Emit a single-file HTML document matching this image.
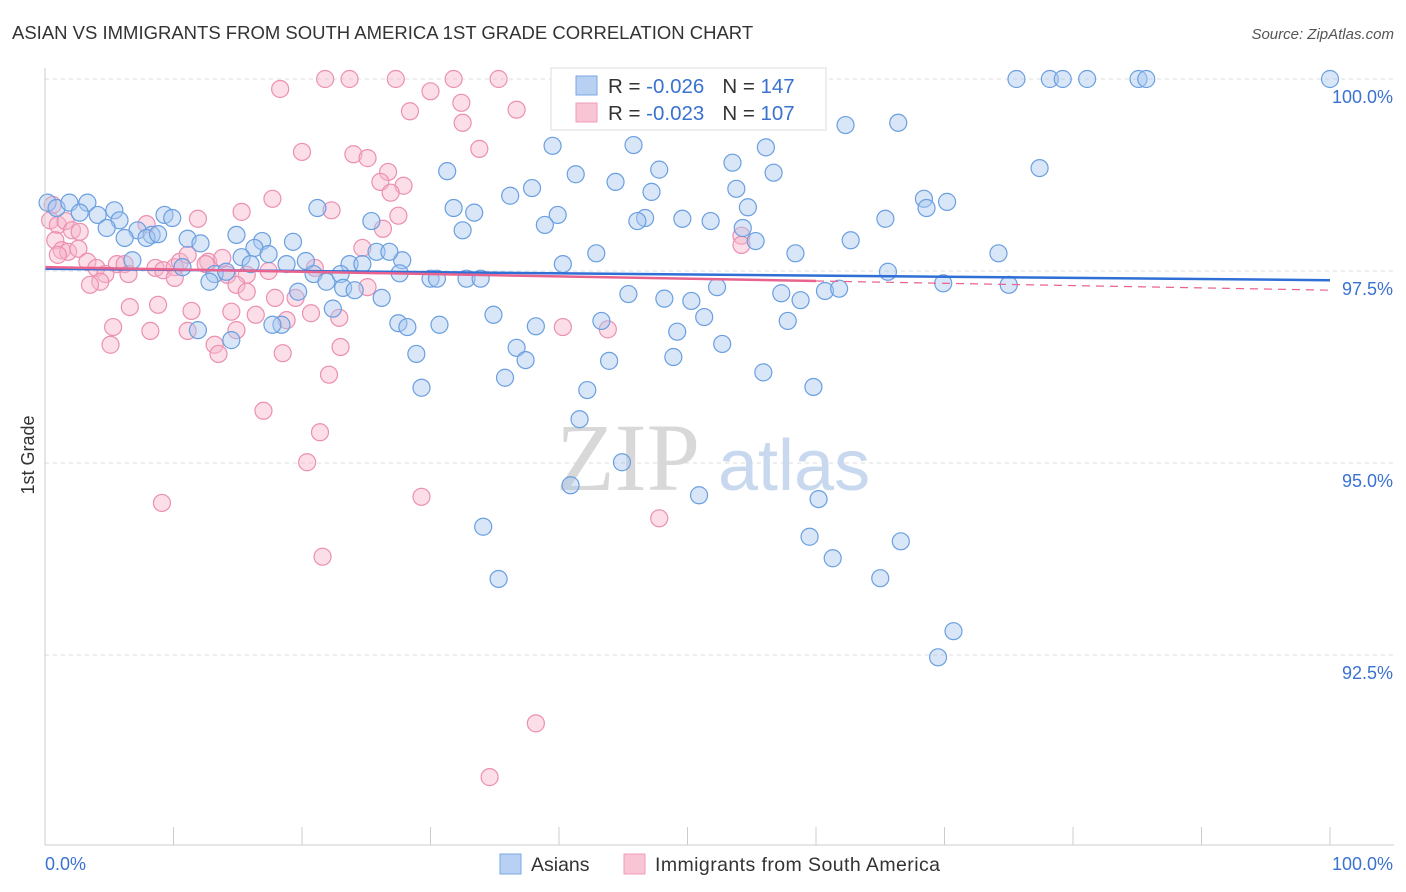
<!DOCTYPE html>
<html><head><meta charset="utf-8">
<style>
body{margin:0;background:#fff;font-family:"Liberation Sans",sans-serif;}
#wrap{position:relative;width:1406px;height:892px;overflow:hidden;}
</style></head>
<body>
<div id="wrap">
<svg id="chart" width="1406" height="892" xmlns="http://www.w3.org/2000/svg">
<text x="12" y="39" font-size="18.5" fill="#333">ASIAN VS IMMIGRANTS FROM SOUTH AMERICA 1ST GRADE CORRELATION CHART</text>
<text x="1394" y="39" font-size="15" fill="#555" font-style="italic" text-anchor="end">Source: ZipAtlas.com</text>
<g id="grid"></g>
<text x="700" y="490" font-size="96" fill="#d8d8d8" text-anchor="end" font-family="Liberation Serif,serif">ZIP</text>
<text x="718" y="490" font-size="72" fill="#c8d8ee">atlas</text>
<g id="pts"></g>
<g id="lines"></g>
<g id="axes"></g>
<text transform="translate(34,455) rotate(-90)" font-size="18" fill="#333" text-anchor="middle">1st Grade</text>
<g>
<rect x="551" y="68" width="275" height="62" fill="#fff" stroke="#ddd"/>
<rect x="576" y="76" width="21" height="19" fill="#b8d1f3" stroke="#7aa7e6"/>
<rect x="576" y="103" width="21" height="19" fill="#f9c4d4" stroke="#ef9db9"/>
<text x="608" y="93" font-size="20.5" fill="#333">R = <tspan fill="#3a72d0">-0.026</tspan><tspan dx="18">N = </tspan><tspan fill="#3a72d0">147</tspan></text>
<text x="608" y="120" font-size="20.5" fill="#333">R = <tspan fill="#3a72d0">-0.023</tspan><tspan dx="18">N = </tspan><tspan fill="#3a72d0">107</tspan></text>
</g>
<g>
<rect x="500" y="854" width="21" height="20" fill="#b8d1f3" stroke="#7aa7e6"/>
<text x="531" y="871" font-size="19.5" fill="#333">Asians</text>
<rect x="624" y="854" width="21" height="20" fill="#f9c4d4" stroke="#ef9db9"/>
<text x="655" y="871" font-size="19.5" fill="#333" textLength="285">Immigrants from South America</text>
</g>
</svg>
</div>
<script>
const yTicks=[100,97.5,95,92.5];
const yTickLabels=["100.0%","97.5%","95.0%","92.5%"];
const xLabels=["0.0%","100.0%"];
const blueX=[75.6,78.2,79.2,81.1,85.1,85.7,100,62.3,66.4,39.5,45.8,56.1,53.5,47.8,31.3,41.3,56.7,77.4,44.4,53.8,37.9,47.2,36.2,68.4,70.2,21.2,31.8,33.4,39.9,46.7,68.6,54.7,49.6,51.8,65.4,38.9,32.5,25.4,46.1,0.2,0.9,1.9,3.3,5.4,5.8,4.1,2.7,4.8,9.3,9.9,7.2,6.2,8.3,7.9,8.8,11.1,12.1,14.9,16.9,19.3,16.3,54.3,55.3,62.7,42.9,58.4,74.2,6.8,10.7,15.3,17.4,18.8,20.3,27.8,25.8,26.8,23.7,24.7,40.3,13.2,12.8,14.1,16.0,20.9,21.9,23.0,23.2,24.1,27.6,30.0,30.5,32.8,33.9,65.6,75.0,69.9,45.4,52.3,48.2,50.3,57.3,58.8,60.7,61.8,19.7,26.2,22.4,34.9,51.3,57.8,27.5,28.2,30.7,38.2,43.3,49.2,18.4,17.7,11.9,14.5,52.7,36.7,37.4,28.9,43.9,48.9,35.8,55.9,42.2,29.3,59.8,41.6,44.9,50.9,40.9,60.2,34.1,59.5,66.6,61.3,35.3,65.0,70.7,69.5];
const blueY=[100,100,100,100,100,100,100,99.40,99.43,99.13,99.14,99.11,98.91,98.82,98.80,98.76,98.78,98.84,98.66,98.57,98.58,98.53,98.48,98.44,98.40,98.32,98.32,98.26,98.23,98.19,98.32,98.33,98.18,98.15,98.18,98.10,98.03,98.15,98.15,98.39,98.32,98.39,98.39,98.29,98.16,98.23,98.26,98.06,98.23,98.19,98.03,97.93,97.97,97.93,97.98,97.92,97.86,97.97,97.89,97.88,97.80,98.06,97.89,97.90,97.73,97.73,97.73,97.64,97.55,97.68,97.72,97.59,97.63,97.64,97.75,97.75,97.59,97.59,97.59,97.46,97.36,97.49,97.59,97.46,97.36,97.46,97.28,97.25,97.47,97.40,97.40,97.40,97.40,97.49,97.32,97.34,97.20,97.29,97.14,97.11,97.21,97.12,97.24,97.27,97.23,97.15,97.01,96.93,96.90,96.85,96.82,96.77,96.80,96.78,96.85,96.71,96.80,96.80,96.73,96.60,96.55,96.50,96.34,96.42,96.33,96.38,96.11,96.18,95.95,95.98,95.99,95.57,95.01,94.58,94.71,94.53,94.17,94.04,93.98,93.76,93.49,93.50,92.81,92.47];
const pinkX=[18.3,21.8,23.7,27.3,31.8,35.3,30.0,28.4,32.4,32.5,36.7,20.0,24.0,25.1,33.8,26.7,26.1,27.9,26.9,17.7,15.3,22.3,27.5,26.3,11.9,7.9,0.6,0.4,1.0,1.6,2.1,2.7,0.8,1.3,1.8,2.6,1.0,3.3,4.0,5.6,4.7,4.3,3.5,6.2,6.5,8.6,9.2,10.1,10.5,11.1,12.7,13.8,14.2,10.1,12.5,15.7,17.4,14.9,15.7,17.9,19.5,21.0,24.7,25.1,54.2,54.2,6.6,8.8,11.4,14.5,16.4,18.8,20.7,22.9,5.3,8.2,11.1,14.9,5.1,13.2,13.5,18.5,23.0,22.1,17.0,21.4,20.4,29.3,9.1,47.8,21.6,38.2,34.6,40.3,43.8];
const pinkY=[99.87,100,100,100,100,100,99.84,99.58,99.69,99.43,99.60,99.05,99.02,98.97,99.09,98.79,98.66,98.61,98.52,98.44,98.27,98.29,98.22,98.05,98.18,98.11,98.36,98.16,98.10,98.15,98.03,98.01,97.90,97.77,97.75,97.79,97.71,97.62,97.54,97.59,97.46,97.36,97.32,97.59,97.46,97.54,97.51,97.55,97.62,97.71,97.62,97.67,97.45,97.41,97.59,97.45,97.50,97.32,97.23,97.15,97.15,97.54,97.80,97.29,97.96,97.84,97.03,97.06,96.98,96.97,96.93,96.86,96.95,96.89,96.77,96.72,96.72,96.73,96.54,96.54,96.42,96.43,96.51,96.15,95.68,95.40,95.01,94.56,94.48,94.28,93.78,91.61,90.91,96.77,96.74];
const blueTrend=[97.53,97.38];
const pinkTrend=[97.55,97.25];
const pinkSolidEnd=60;

const NS="http://www.w3.org/2000/svg";
function sx(v){return 45+v*12.85;}
function sy(v){return 79+(100-v)*76.8;}
function mk(tag,attrs,parent){const e=document.createElementNS(NS,tag);for(const k in attrs)e.setAttribute(k,attrs[k]);parent.appendChild(e);return e;}
const grid=document.getElementById('grid'),axes=document.getElementById('axes'),pts=document.getElementById('pts'),lines=document.getElementById('lines');
yTicks.forEach((t,i)=>{
  const l=mk('line',{x1:45,x2:1394,y1:sy(t),y2:sy(t),stroke:'#ddd','stroke-dasharray':'4,4'},grid);
  
  
  const tx=mk('text',{x:1393,y:sy(t)+24,'font-size':18,fill:'#3a72d0','text-anchor':'end'},axes);
  tx.textContent=yTickLabels[i];
  
  
});
const ax=mk('line',{x1:45,x2:45,y1:68,y2:845,stroke:'#ccc'},axes);


const bx=mk('line',{x1:45,x2:1394,y1:845,y2:845,stroke:'#ccc'},axes);


for(let i=0;i<=10;i++){
  const t=mk('line',{x1:sx(i*10),x2:sx(i*10),y1:827,y2:845,stroke:'#ccc'},axes);
  
  
}
const xl0=mk('text',{x:45,y:870,'font-size':18,fill:'#3a72d0'},axes);xl0.textContent=xLabels[0];


const xl1=mk('text',{x:1393,y:870,'font-size':18,fill:'#3a72d0','text-anchor':'end'},axes);xl1.textContent=xLabels[1];


function dots(X,Y,fill,stroke,name){
  X.forEach((x,i)=>{
    const c=mk('circle',{cx:sx(x),cy:sy(Y[i]),r:8.5,fill:fill,'fill-opacity':0.45,stroke:stroke,'stroke-width':1.2},pts);
    
    
  });
}
dots(pinkX,pinkY,'#f7b6cc','#ec8fb0','immigrant-point');
dots(blueX,blueY,'#a9c8f0','#6a9fe0','asian-point');
const bl=mk('line',{x1:sx(0),y1:sy(blueTrend[0]),x2:sx(100),y2:sy(blueTrend[1]),stroke:'#2f6fd6','stroke-width':2.5},lines);


const pm=pinkTrend[0]+(pinkTrend[1]-pinkTrend[0])*pinkSolidEnd/100;
const pl=mk('line',{x1:sx(0),y1:sy(pinkTrend[0]),x2:sx(pinkSolidEnd),y2:sy(pm),stroke:'#e8648f','stroke-width':2.5},lines);


const pd=mk('line',{x1:sx(pinkSolidEnd),y1:sy(pm),x2:sx(100),y2:sy(pinkTrend[1]),stroke:'#e8648f','stroke-width':1.2,'stroke-dasharray':'8,6'},lines);


</script>
</body></html>
